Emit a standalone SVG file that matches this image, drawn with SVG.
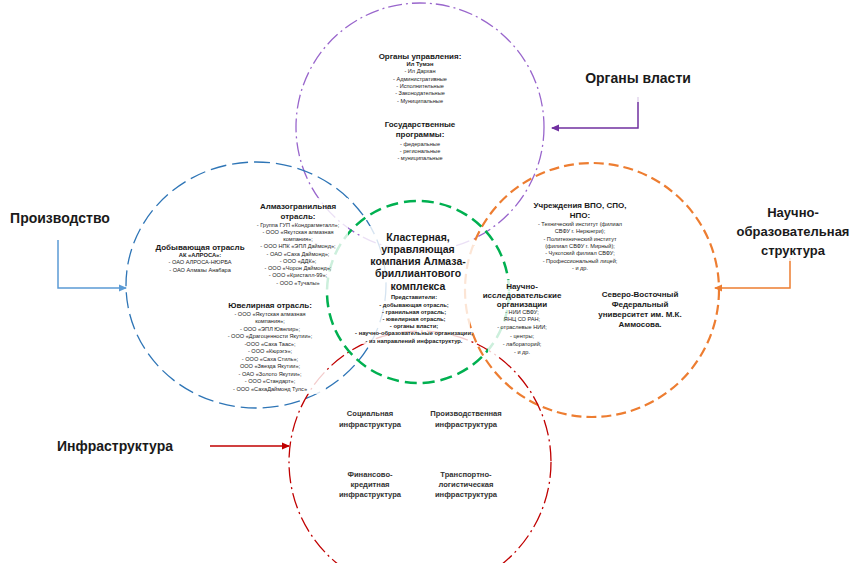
<svg xmlns="http://www.w3.org/2000/svg" width="854" height="563" viewBox="0 0 854 563">
<style>
text{font-family:"Liberation Sans","Open Sans",Arial,sans-serif;fill:#1a1a1a;text-anchor:middle}
.lbl{font-size:14px;font-weight:bold}
.h{font-size:8px;font-weight:bold}
.hc{font-size:10.5px;font-weight:bold}
.s{font-size:5.6px;fill:#222}
.sb{font-size:5.8px;font-weight:bold}
.inf{font-size:7.6px;font-weight:bold;fill:#333}
.box{fill:#fff;fill-opacity:0.8;stroke:none}
.c{fill:none}
</style>
<defs>
<marker id="aP" markerWidth="8" markerHeight="8" refX="7" refY="4" orient="auto" markerUnits="userSpaceOnUse"><path d="M0,0.5 L8,4 L0,7.5z" fill="#7030A0"/></marker>
<marker id="aB" markerWidth="8" markerHeight="8" refX="7" refY="4" orient="auto" markerUnits="userSpaceOnUse"><path d="M0,0.5 L8,4 L0,7.5z" fill="#5B9BD5"/></marker>
<marker id="aO" markerWidth="8" markerHeight="8" refX="7" refY="4" orient="auto" markerUnits="userSpaceOnUse"><path d="M0,0.5 L8,4 L0,7.5z" fill="#ED7D31"/></marker>
<marker id="aR" markerWidth="8" markerHeight="8" refX="7" refY="4" orient="auto" markerUnits="userSpaceOnUse"><path d="M0,0.5 L8,4 L0,7.5z" fill="#C00000"/></marker>
</defs>
<rect width="854" height="563" fill="#fff"/>

<g id="circles">
<circle id="c-power" class="c" cx="420" cy="127" r="124" stroke="#9966CC" stroke-width="1.3" stroke-dasharray="14,4,2,4"/>
<ellipse id="c-prod" class="c" cx="256" cy="285" rx="130" ry="123" stroke="#2E75B6" stroke-width="1.3" stroke-dasharray="16,6"/>
<circle id="c-sci" class="c" cx="592" cy="290" r="127" stroke="#ED7D31" stroke-width="2.2" stroke-dasharray="10,5"/>
<circle id="c-infra" class="c" cx="420" cy="462" r="131" stroke="#C00000" stroke-width="1.3" stroke-dasharray="16,4,2,4"/>
<circle id="c-cluster" class="c" cx="418" cy="292" r="91" stroke="#00B050" stroke-width="2.5" stroke-dasharray="12,6"/>
</g>

<g id="connectors" fill="none" stroke-width="1.5">
<path d="M638,97 V128 H552" stroke="#7030A0" marker-end="url(#aP)"/>
<path d="M58,240 V288 H126" stroke="#5B9BD5" marker-end="url(#aB)"/>
<path d="M790,258 V288 H715" stroke="#ED7D31" marker-end="url(#aO)"/>
<path d="M210,446 H289" stroke="#C00000" marker-end="url(#aR)"/>
</g>

<g id="n-organy-vlasti">
<rect class="box" x="556" y="62" width="166" height="40"/>
<text class="lbl" x="638" y="83">Органы власти</text>
</g>
<g id="n-proizvodstvo">
<rect class="box" x="2" y="202" width="120" height="34"/>
<text class="lbl" x="60" y="223">Производство</text>
</g>
<g id="n-nauchno">
<rect class="box" x="733" y="197" width="120" height="64"/>
<text class="lbl" x="793" y="217" style="font-size:13px">Научно-</text>
<text class="lbl" x="793" y="236" style="font-size:13px">образовательная</text>
<text class="lbl" x="793" y="255" style="font-size:13px">структура</text>
</g>
<g id="n-infrastruktura">
<rect class="box" x="48" y="428" width="130" height="34"/>
<text class="lbl" x="115" y="451">Инфраструктура</text>
</g>

<g id="n-organy-upr">
<text class="h" x="420" y="59">Органы управления:</text>
<text class="sb" x="420" y="66">Ил Тумэн</text>
<text class="s" x="420" y="73">- Ил Дархан</text>
<text class="s" x="420" y="81">- Административные</text>
<text class="s" x="420" y="88">- Исполнительные</text>
<text class="s" x="420" y="95">- Законодательные</text>
<text class="s" x="420" y="103">- Муниципальные</text>
</g>
<g id="n-gosprog">
<text class="h" x="420" y="127">Государственные</text>
<text class="h" x="420" y="137">программы:</text>
<text class="s" x="420" y="146">- федеральные</text>
<text class="s" x="420" y="153">- региональные</text>
<text class="s" x="420" y="160">- муниципальные</text>
</g>

<g id="n-dobyv">
<text class="h" x="200" y="250">Добывающая отрасль</text>
<text class="sb" x="200" y="257">АК «АЛРОСА»:</text>
<text class="s" x="200" y="264">- ОАО АЛРОСА-НЮРБА</text>
<text class="s" x="200" y="272">- ОАО Алмазы Анабара</text>
</g>
<g id="n-almazogran">
<rect class="box" x="252" y="198" width="96" height="92"/>
<text class="h" x="298" y="209">Алмазогранильная</text>
<text class="h" x="298" y="219">отрасль:</text>
<text class="s" x="298" y="227">- Группа ГУП «Кондрагметалл»;</text>
<text class="s" x="298" y="234">- ООО «Якутская алмазная</text>
<text class="s" x="298" y="241">компания»;</text>
<text class="s" x="298" y="248">- ООО НПК «ЭПЛ Даймонд»;</text>
<text class="s" x="298" y="256">- ОАО «Саха Даймонд»;</text>
<text class="s" x="298" y="263">- ООО «ДДК»;</text>
<text class="s" x="298" y="270">- ООО «Чорон Даймонд»;</text>
<text class="s" x="298" y="277">- ООО «Кристалл-99»;</text>
<text class="s" x="298" y="285">- ООО «Тучалы»</text>
</g>
<g id="n-juvel">
<rect class="box" x="216" y="298" width="110" height="96"/>
<text class="h" x="270" y="308">Ювелирная отрасль:</text>
<text class="s" x="270" y="316">- ООО «Якутская алмазная</text>
<text class="s" x="270" y="323">компания»;</text>
<text class="s" x="270" y="331">- ООО «ЭПЛ Ювелир»;</text>
<text class="s" x="270" y="338">- ООО «Драгоценности Якутии»;</text>
<text class="s" x="270" y="346">-ООО «Саха Таас»;</text>
<text class="s" x="270" y="353">- ООО «Кюрэгэ»;</text>
<text class="s" x="270" y="361">- ООО «Саха Стиль»;</text>
<text class="s" x="270" y="368">ООО «Звезда Якутии»;</text>
<text class="s" x="270" y="376">- ОАО «Золото Якутии»;</text>
<text class="s" x="270" y="383">- ООО «Стандарт»;</text>
<text class="s" x="270" y="391">- ООО «СахаДаймонд Тулс»</text>
</g>

<g id="n-cluster">
<rect class="box" x="362" y="226" width="112" height="68" fill-opacity="0.6"/>
<rect class="box" x="358" y="294" width="112" height="50" fill-opacity="0.6"/>
<text class="hc" x="418" y="241">Кластерная,</text>
<text class="hc" x="418" y="253">управляющая</text>
<text class="hc" x="418" y="265">компания Алмаза-</text>
<text class="hc" x="418" y="277">бриллиантового</text>
<text class="hc" x="418" y="290">комплекса</text>
<text class="sb" x="414" y="299">Представители:</text>
<text class="sb" x="414" y="307">- добывающая отрасль;</text>
<text class="sb" x="414" y="314">- гранильная отрасль;</text>
<text class="sb" x="414" y="321">- ювелирная отрасль;</text>
<text class="sb" x="414" y="328">- органы власти;</text>
<text class="sb" x="414" y="335">- научно-образовательные организации;</text>
<text class="sb" x="414" y="343">- из направлений инфраструктур.</text>
</g>

<g id="n-vpo">
<rect class="box" x="530" y="198" width="100" height="76"/>
<text class="h" x="580" y="208">Учреждения ВПО, СПО,</text>
<text class="h" x="580" y="218">НПО:</text>
<text class="s" x="580" y="226">- Технический институт (филиал</text>
<text class="s" x="580" y="233">СВФУ г. Нерюнгри);</text>
<text class="s" x="580" y="241">- Политехнический институт</text>
<text class="s" x="580" y="248">(филиал СВФУ г. Мирный);</text>
<text class="s" x="580" y="255">- Чукотский филиал СВФУ;</text>
<text class="s" x="580" y="263">- Профессиональный лицей;</text>
<text class="s" x="580" y="270">- и др.</text>
</g>
<g id="n-nii">
<rect class="box" x="488" y="280" width="66" height="76" fill-opacity="0.6"/>
<text class="h" x="522" y="289">Научно-</text>
<text class="h" x="522" y="298">исследовательские</text>
<text class="h" x="522" y="307">организации</text>
<text class="s" x="522" y="314">- НИИ СВФУ;</text>
<text class="s" x="522" y="321">ЯНЦ СО РАН;</text>
<text class="s" x="522" y="329">- отраслевые НИИ;</text>
<text class="s" x="522" y="338">- центры;</text>
<text class="s" x="522" y="346">- лабораторий;</text>
<text class="s" x="522" y="354">- и др.</text>
</g>
<g id="n-svfu">
<rect class="box" x="592" y="284" width="96" height="46"/>
<text class="h" x="640" y="297">Северо-Восточный</text>
<text class="h" x="640" y="307">Федеральный</text>
<text class="h" x="640" y="317">университет им. М.К.</text>
<text class="h" x="640" y="327">Аммосова.</text>
</g>

<g id="n-soc">
<rect class="box" x="330" y="404" width="80" height="28"/>
<text class="inf" x="370" y="416">Социальная</text>
<text class="inf" x="370" y="427">инфраструктура</text>
</g>
<g id="n-proizv">
<rect class="box" x="423" y="404" width="86" height="28"/>
<text class="inf" x="466" y="416">Производственная</text>
<text class="inf" x="466" y="427">инфраструктура</text>
</g>
<g id="n-fin">
<rect class="box" x="330" y="466" width="80" height="36"/>
<text class="inf" x="370" y="477">Финансово-</text>
<text class="inf" x="370" y="487">кредитная</text>
<text class="inf" x="370" y="497">инфраструктура</text>
</g>
<g id="n-trans">
<rect class="box" x="423" y="466" width="86" height="36"/>
<text class="inf" x="466" y="477">Транспортно-</text>
<text class="inf" x="466" y="487">логистическая</text>
<text class="inf" x="466" y="497">инфраструктура</text>
</g>
</svg>
